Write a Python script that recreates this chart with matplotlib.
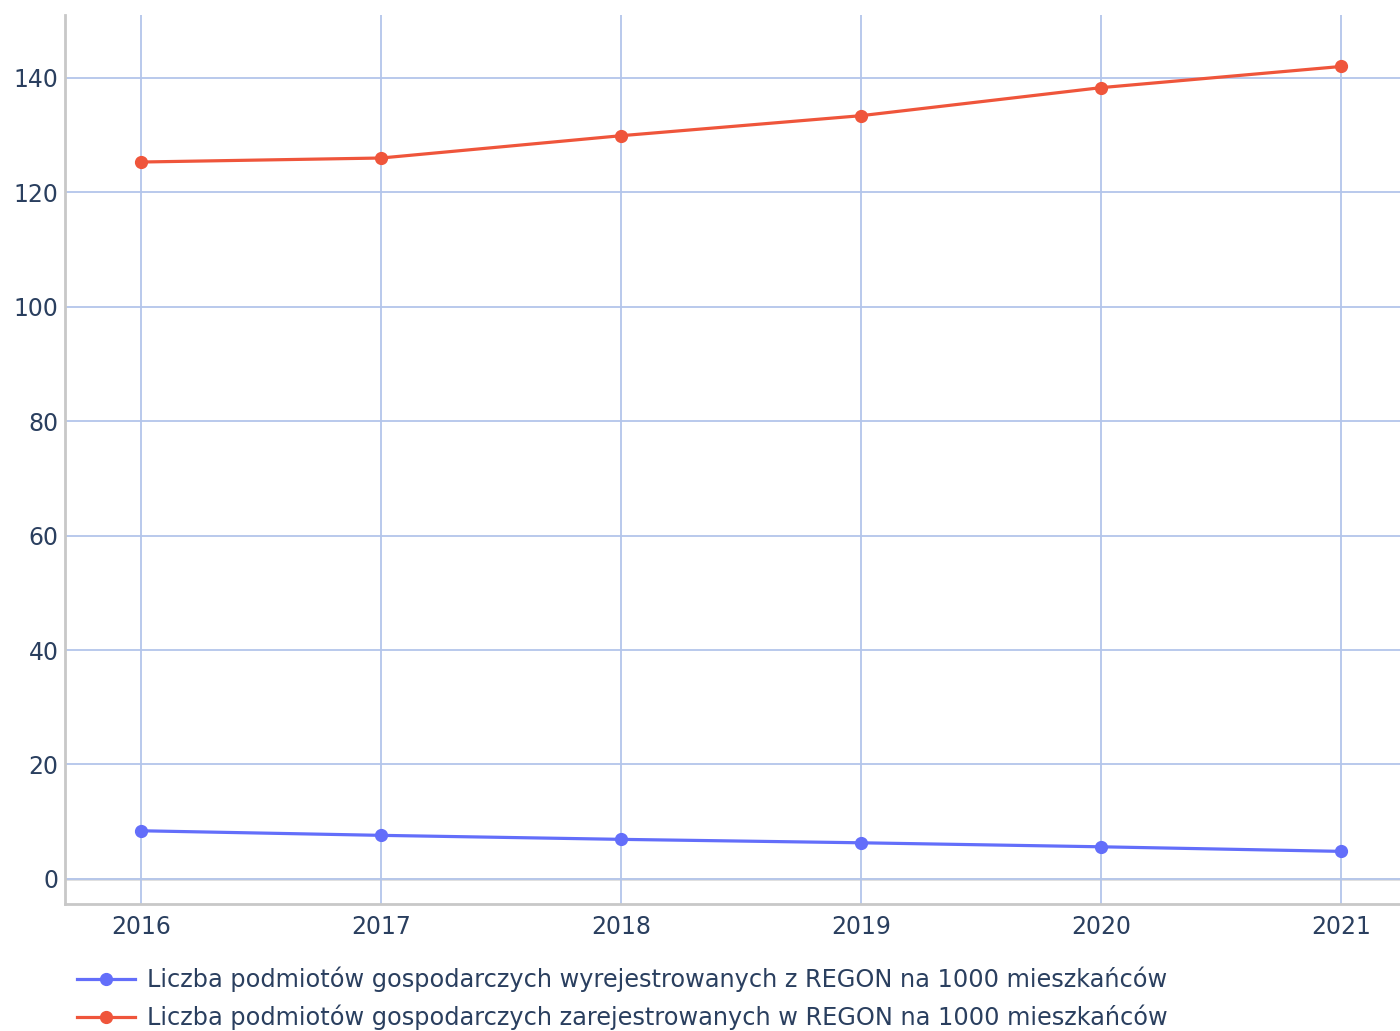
import matplotlib
matplotlib.use("Agg")
import matplotlib.pyplot as plt
from matplotlib.lines import Line2D

years = [2016, 2017, 2018, 2019, 2020, 2021]
wyrejestrowane = [8.4, 7.6, 6.9, 6.3, 5.6, 4.8]
zarejestrowane = [125.3, 126.0, 129.9, 133.4, 138.3, 142.0]
yticks = [0, 20, 40, 60, 80, 100, 120, 140]
labels = [
    "Liczba podmiotów gospodarczych wyrejestrowanych z REGON na 1000 mieszkańców",
    "Liczba podmiotów gospodarczych zarejestrowanych w REGON na 1000 mieszkańców",
]

plt.rcParams['font.family'] = ['DejaVu Sans']
txt = '#2a3f5f'
blue = '#636efa'
red = '#ef553b'
grid = '#b3c5ea'

fig = plt.figure(figsize=(14, 10.31), dpi=100)
ax = fig.add_axes([65/1400, 1-904/1031, 1-65/1400, (904-15)/1031])

ax.plot(years, wyrejestrowane, color=blue, lw=2.3, marker='o', ms=8.5, zorder=3)
ax.plot(years, zarejestrowane, color=red, lw=2.3, marker='o', ms=8.5, zorder=3)

ax.set_xlim(2015.683, 2021.246)
ax.set_ylim(-4.4, 151)
ax.set_xticks(years)
ax.set_xticklabels([str(y) for y in years])
ax.set_yticks(yticks)
ax.grid(True, color=grid, lw=1.3, zorder=0)
ax.axhline(0, color='#dddddd', lw=2, zorder=1)
ax.tick_params(axis='both', length=0, labelsize=17, labelcolor=txt)
ax.tick_params(axis='x', pad=8)
ax.tick_params(axis='y', pad=4.5)
for s in ['top', 'right']:
    ax.spines[s].set_visible(False)
for s in ['left', 'bottom']:
    ax.spines[s].set_color('#c8c8c8')
    ax.spines[s].set_linewidth(2)

handles = [Line2D([], [], color=blue, lw=2.3, marker='o', ms=8.5),
           Line2D([], [], color=red, lw=2.3, marker='o', ms=8.5)]
leg = fig.legend(handles, labels, loc='upper left', bbox_to_anchor=(77/1400, 1-967/1031),
                 frameon=False, fontsize=17.3, handlelength=2.4, handletextpad=0.5,
                 labelspacing=0.50, borderaxespad=0, borderpad=0)
for t in leg.get_texts():
    t.set_color(txt)

fig.savefig('out.png', dpi=100)
